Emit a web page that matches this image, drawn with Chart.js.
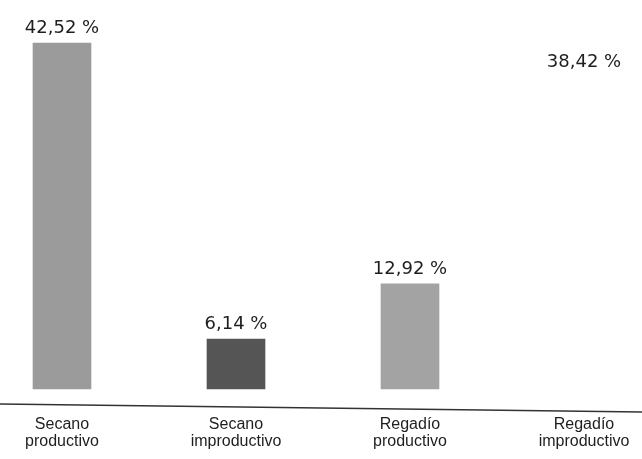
<!DOCTYPE html>
<html>
<head>
<meta charset="utf-8">
<script src="https://cdn.jsdelivr.net/npm/chart.js@4"></script>
<style>
  html, body { margin: 0; padding: 0; background: #fff; }
  #wrap { width: 642px; height: 459px; }
</style>
</head>
<body>
<div id="wrap"><canvas id="myChart" width="642" height="459"></canvas></div>
<script>
const categorias = [['Secano', 'productivo'], ['Secano', 'improductivo'], ['Regadío', 'productivo'], ['Regadío', 'improductivo']];
const porcentajes = [42.52, 6.14, 12.92, 38.42];
const colores = ['#9b9b9b', '#555555', '#a3a3a3', '#ffffff'];

// etiquetas encima de cada barra, con coma decimal
const etiquetas = {
  id: 'etiquetas',
  afterDatasetsDraw(chart) {
    const c = chart.ctx;
    const meta = chart.getDatasetMeta(0);
    c.save();
    c.font = '18px "DejaVu Sans", sans-serif';
    c.fillStyle = '#1e1e1e';
    c.textAlign = 'center';
    c.textBaseline = 'alphabetic';
    meta.data.forEach((bar, i) => {
      const txt = porcentajes[i].toFixed(2).replace('.', ',') + ' %';
      c.fillText(txt, bar.x, bar.y - 10);
    });
    c.restore();
  }
};

// línea base, algo más abajo que las barras (un poco inclinada, como en el escaneo)
const lineaBase = {
  id: 'lineaBase',
  afterDraw(chart) {
    const c = chart.ctx;
    const y = chart.chartArea.bottom + 15;
    c.save();
    c.strokeStyle = '#333';
    c.lineWidth = 1.6;
    c.beginPath();
    c.moveTo(0, y);
    c.lineTo(chart.width, y + 8);
    c.stroke();
    c.restore();
  }
};

const ctx = document.getElementById('myChart');

var grafico = new Chart(ctx, {
  type: 'bar',
  data: {
    labels: categorias,
    datasets: [{
      data: porcentajes,
      backgroundColor: colores,
      barThickness: 58,
      clip: false
    }]
  },
  options: {
    responsive: false,
    animation: false,
    layout: { padding: { left: 62, right: 58, top: 23, bottom: 0 } },
    plugins: { legend: { display: false }, tooltip: { enabled: false } },
    scales: {
      x: {
        offset: false,
        grid: { display: false },
        border: { display: false },
        afterFit(scale) {
          scale.height = 70;
          scale.paddingLeft = 0;
          scale.paddingRight = 0;
        },
        ticks: {
          padding: 19,
          color: '#1e1e1e',
          font: { family: '"Liberation Sans", sans-serif', size: 16, lineHeight: 1.05 },
          maxRotation: 0,
          autoSkip: false
        }
      },
      y: {
        display: false,
        min: 0,
        max: 45
      }
    }
  },
  plugins: [etiquetas, lineaBase]
});
</script>
</body>
</html>
